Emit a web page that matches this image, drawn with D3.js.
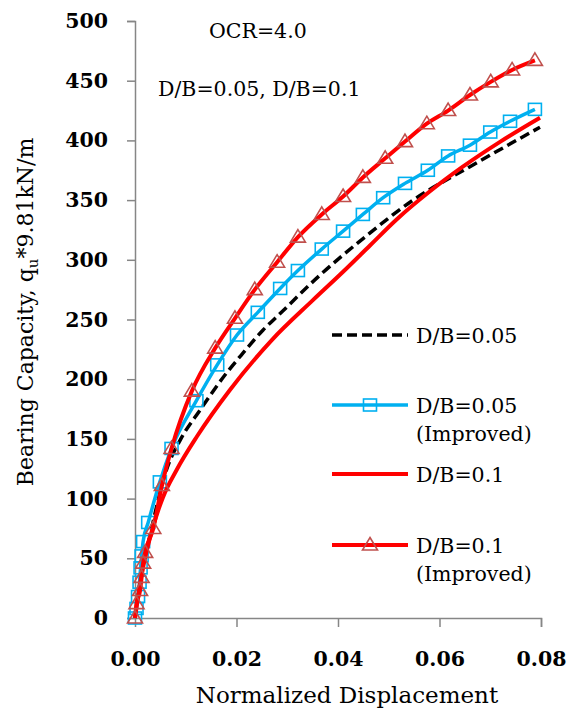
<!DOCTYPE html>
<html>
<head>
<meta charset="utf-8">
<script src="https://cdn.jsdelivr.net/npm/d3@7"></script>
<style>
  html, body { margin: 0; padding: 0; background: #fff; }
  svg { display: block; }
  text { font-family: "DejaVu Serif", "Liberation Serif", serif; fill: #000; }
</style>
</head>
<body>
<div id="chart"></div>
<script>
// ---------- data ----------
const xTicks = [0, 0.02, 0.04, 0.06, 0.08];
const yTicks = [0, 50, 100, 150, 200, 250, 300, 350, 400, 450, 500];

const db005X = [0, 0.001, 0.003, 0.0062, 0.0089, 0.0128, 0.018, 0.0213, 0.0252, 0.0286, 0.0364, 0.045, 0.0548, 0.066, 0.0798];
const db005Y = [0, 30, 70, 124, 149, 174, 205, 222, 241, 255, 287, 318, 350, 378, 411];

const db005ImpX = [0, 0.0003, 0.0006, 0.0009, 0.0011, 0.0013, 0.0016, 0.0026, 0.0049, 0.0072, 0.0121, 0.0162, 0.0201, 0.0242, 0.0286, 0.0321, 0.0368, 0.041, 0.0449, 0.0489, 0.0532, 0.0577, 0.0617, 0.066, 0.070, 0.0739, 0.0788];
const db005ImpY = [0, 8, 18, 30, 42, 52, 64, 80, 114, 142, 182, 212, 237, 256, 276, 291, 309, 324, 338, 352, 364, 375, 387, 396, 407, 416, 426];

const db01X = [0, 0.001, 0.003, 0.0055, 0.0082, 0.0122, 0.0187, 0.027, 0.035, 0.041, 0.0463, 0.0516, 0.058, 0.0646, 0.072, 0.0798];
const db01Y = [0, 29, 68, 101, 124, 152, 191, 233, 266, 290, 312, 334, 357, 378, 399, 419];

const db01ImpX = [0, 0.0003, 0.001, 0.0013, 0.0016, 0.002, 0.0036, 0.0053, 0.0072, 0.0112, 0.0158, 0.0197, 0.0236, 0.028, 0.0321, 0.0368, 0.041, 0.0449, 0.0493, 0.0532, 0.0575, 0.0617, 0.066, 0.0701, 0.0743, 0.0788];
const db01ImpY = [0, 12, 23, 34, 46, 55, 75, 111, 142, 190, 226, 251, 275, 298, 319, 338, 353, 369, 385, 399, 414, 425, 438, 449, 459, 467];

const seriesNames = ["D/B=0.05", "D/B=0.05", "D/B=0.1", "D/B=0.1"];
const seriesSub = ["", "(Improved)", "", "(Improved)"];
const seriesColors = ["#000000", "#00b0f0", "#ff0000", "#ff0000"];
const markerColors = [null, "#00b0f0", null, "#c0504d"];
const markerTypes = [null, "square", null, "triangle"];

// ---------- layout ----------
const W = 570, H = 713;
const svg = d3.select("#chart").append("svg").attr("width", W).attr("height", H);

const x = d3.scaleLinear().domain([0, 0.08]).range([135, 541]);
const y = d3.scaleLinear().domain([0, 500]).range([618, 21]);

const axisColor = "#868686";

// y axis
const yAxis = svg.append("g").attr("transform", `translate(${x(0)},0)`)
  .call(d3.axisLeft(y).tickValues(yTicks).tickSize(8).tickPadding(19).tickFormat(d3.format("d")));
// x axis
const xAxis = svg.append("g").attr("transform", `translate(0,${y(0)})`)
  .call(d3.axisBottom(x).tickValues(xTicks).tickSize(9).tickPadding(24).tickFormat(d3.format(".2f")));

[yAxis, xAxis].forEach(g => {
  g.select(".domain").attr("stroke", axisColor).attr("stroke-width", 1.5);
  g.selectAll(".tick line").attr("stroke", axisColor).attr("stroke-width", 1.5);
  g.selectAll(".tick text").attr("fill", "#000").style("font-family", "'DejaVu Serif', serif")
    .style("font-size", "20.5px").style("font-weight", "bold");
});
xAxis.selectAll(".tick").filter(d => d === 0).select("line").remove();

// axis titles
svg.append("text").attr("x", 347).attr("y", 703).attr("text-anchor", "middle")
  .style("font-size", "23px").text("Normalized Displacement");

const yt = svg.append("text").attr("transform", "translate(33,312) rotate(-90)")
  .attr("text-anchor", "middle").style("font-size", "22px");
yt.append("tspan").text("Bearing Capacity, q");
yt.append("tspan").attr("dy", 5).style("font-size", "15px").text("u");
yt.append("tspan").attr("dy", -5).text("*9.81kN/m");

// annotations
svg.append("text").attr("x", 209).attr("y", 38).style("font-size", "20.5px").text("OCR=4.0");
svg.append("text").attr("x", 158).attr("y", 96).style("font-size", "20.5px").text("D/B=0.05, D/B=0.1");

// ---------- series ----------
const allX = [db005X, db005ImpX, db01X, db01ImpX];
const allY = [db005Y, db005ImpY, db01Y, db01ImpY];
const widths = [3.5, 3.5, 4, 4];
const dashes = ["10,5", null, null, null];

const line = d3.line().x(d => x(d[0])).y(d => y(d[1])).curve(d3.curveMonotoneX);

function drawMarker(g, type, color, cx, cy) {
  if (type === "square") {
    g.append("rect").attr("x", cx - 6.5).attr("y", cy - 6).attr("width", 13).attr("height", 12)
      .attr("fill", "none").attr("stroke", color).attr("stroke-width", 1.6);
  } else if (type === "triangle") {
    const s = 15, h = 12.5;
    g.append("path").attr("d", `M${cx},${cy - h * 0.6}L${cx + s / 2},${cy + h * 0.4}L${cx - s / 2},${cy + h * 0.4}Z`)
      .attr("fill", "none").attr("stroke", color).attr("stroke-width", 1.6);
  }
}

for (let i = 0; i < 4; i++) {
  const pts = allX[i].map((v, k) => [v, allY[i][k]]);
  const g = svg.append("g");
  g.append("path").datum(pts).attr("d", line).attr("fill", "none")
    .attr("stroke", seriesColors[i]).attr("stroke-width", widths[i])
    .attr("stroke-dasharray", dashes[i]).attr("stroke-linejoin", "round");
  if (markerTypes[i]) {
    pts.forEach(p => drawMarker(g, markerTypes[i], markerColors[i], x(p[0]), y(p[1])));
  }
}

// ---------- legend ----------
const legLineY = [335, 405, 474, 545];
const lg = svg.append("g");
for (let i = 0; i < 4; i++) {
  const ly = legLineY[i];
  lg.append("line").attr("x1", 332).attr("x2", 408).attr("y1", ly).attr("y2", ly)
    .attr("stroke", seriesColors[i]).attr("stroke-width", widths[i]).attr("stroke-dasharray", dashes[i]);
  if (markerTypes[i]) drawMarker(lg, markerTypes[i], markerColors[i], 370, ly);
  lg.append("text").attr("x", 416).attr("y", ly + 8).style("font-size", "20.5px").text(seriesNames[i]);
  if (seriesSub[i]) lg.append("text").attr("x", 416).attr("y", ly + 36).style("font-size", "20.5px").text(seriesSub[i]);
}
</script>
</body>
</html>
